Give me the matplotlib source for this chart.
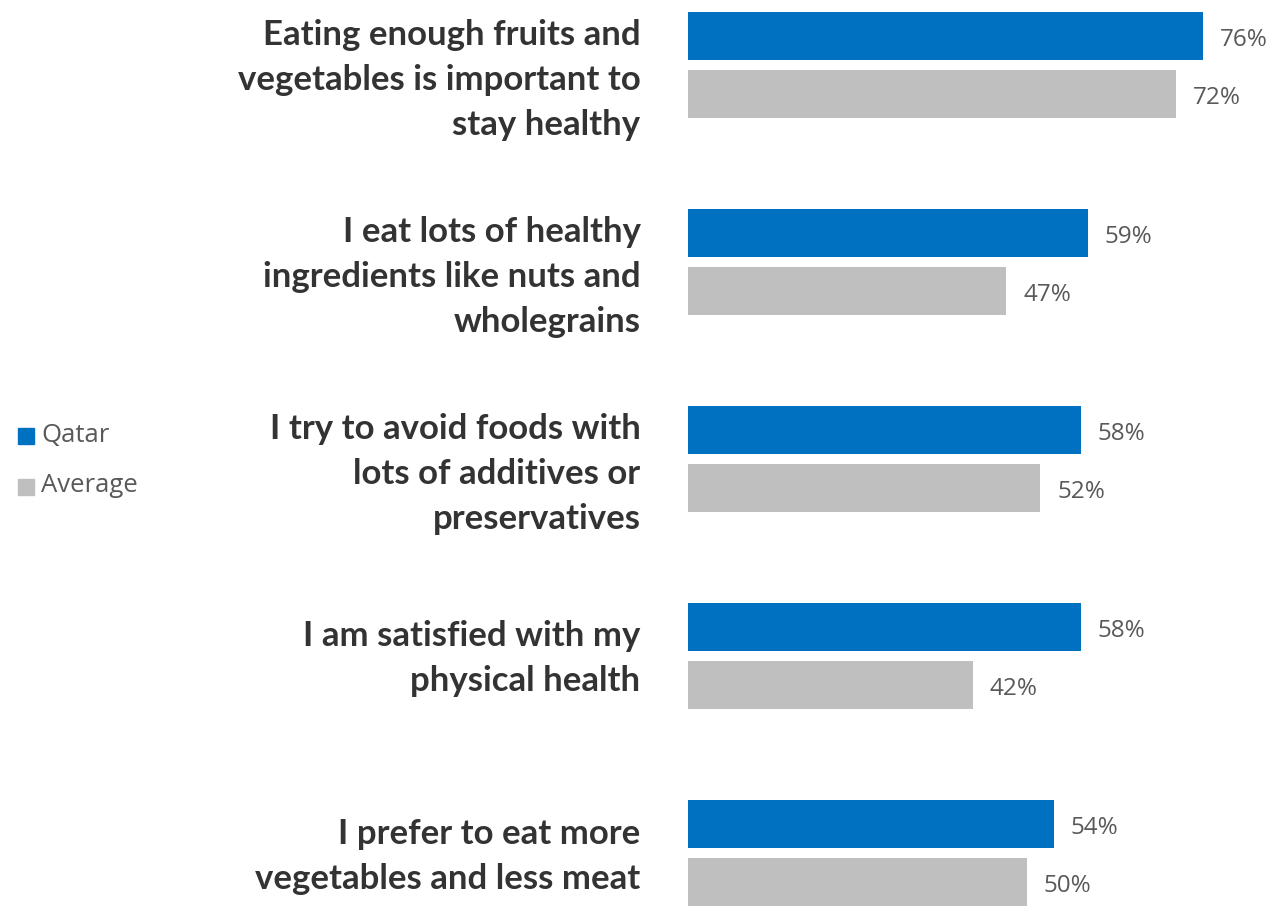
import matplotlib.pyplot as plt
import numpy as np

statements = [
    "Eating enough fruits and\nvegetables is important to\nstay healthy",
    "I eat lots of healthy\ningredients like nuts and\nwholegrains",
    "I try to avoid foods with\nlots of additives or\npreservatives",
    "I am satisfied with my\nphysical health",
    "I prefer to eat more\nvegetables and less meat",
]
qatar = [76, 59, 58, 58, 54]
average = [72, 47, 52, 42, 50]

BLUE = "#0070C0"
GREY = "#BFBFBF"
TEXT = "#595959"

fig = plt.figure(figsize=(12.81, 9.09), dpi=100)
ax = fig.add_axes([688 / 1281, 0, 542 / 1281, 1])

y = np.arange(len(statements))
off = 0.147
h = 0.245
ax.barh(y - off, qatar, height=h, color=BLUE)
ax.barh(y + off, average, height=h, color=GREY)

for yi, v in zip(y - off, qatar):
    ax.text(v + 2.5, yi + 0.02, f"{v}%", va="center", ha="left", fontsize=17.5,
            color=TEXT, family="Open Sans", clip_on=False)
for yi, v in zip(y + off, average):
    ax.text(v + 2.5, yi + 0.02, f"{v}%", va="center", ha="left", fontsize=17.5,
            color=TEXT, family="Open Sans", clip_on=False)

# statement labels, right aligned left of the bars
for yi, s in zip(y, statements):
    nlines = s.count("\n") + 1
    shift = 0.075 if nlines == 3 else 0.015
    ax.text(-7, yi + shift, s, ha="right", va="center", multialignment="right",
            fontsize=25, fontweight="bold", color="#333333", family="Lato",
            linespacing=1.5, clip_on=False)

ax.set_xlim(0, 80)
ax.set_ylim(4.284, -0.33)
ax.axis("off")

# legend at the far left
for lbl, col, ypix in [("Qatar", BLUE, 435), ("Average", GREY, 486)]:
    fy = 1 - ypix / 909
    fig.patches.append(plt.Rectangle((18 / 1281, fy - 9 / 909), 16 / 1281, 16 / 909,
                                     transform=fig.transFigure, color=col))
    fig.text(41 / 1281, fy, lbl, va="center", ha="left", fontsize=18.5,
             color=TEXT, family="Open Sans")

fig.savefig("out.png", dpi=100)
